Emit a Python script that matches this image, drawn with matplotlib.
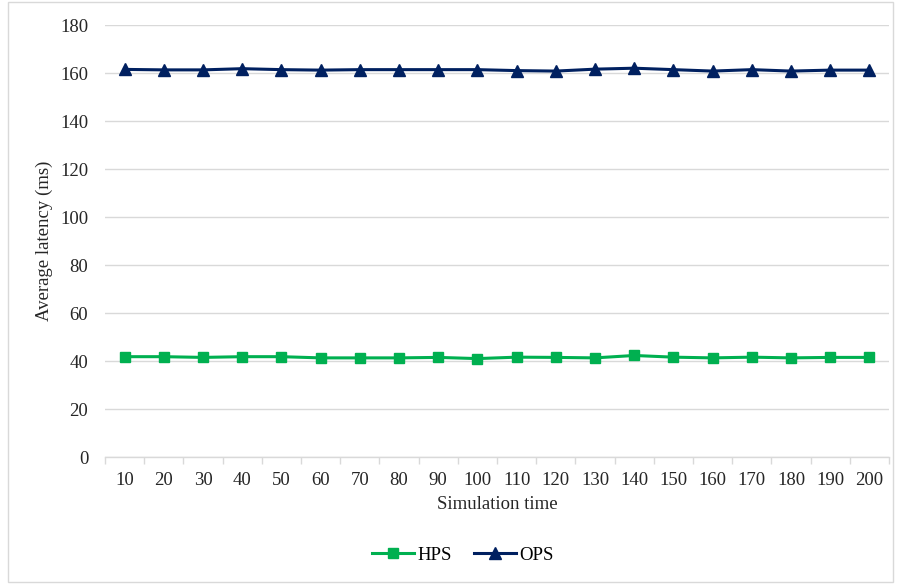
import matplotlib
matplotlib.use("Agg")
import matplotlib.pyplot as plt
from matplotlib.patches import Rectangle

plt.rcParams['font.family'] = ['Liberation Serif', 'DejaVu Serif']

categories = [10, 20, 30, 40, 50, 60, 70, 80, 90, 100, 110, 120, 130, 140, 150, 160, 170, 180, 190, 200]
hps = [41.8, 41.8, 41.5, 41.8, 41.8, 41.3, 41.3, 41.3, 41.5, 41.0, 41.6, 41.5, 41.3, 42.3, 41.6, 41.3, 41.6, 41.3, 41.5, 41.5]
ops = [161.5, 161.3, 161.3, 161.8, 161.4, 161.2, 161.4, 161.4, 161.4, 161.4, 161.0, 160.8, 161.6, 162.0, 161.4, 160.8, 161.4, 160.8, 161.2, 161.2]
yticks = [0, 20, 40, 60, 80, 100, 120, 140, 160, 180]

FS = 13.5
fig = plt.figure(figsize=(9.01, 5.84), dpi=100)
ax = fig.add_axes([105/901, 1 - 457/584, (889-105)/901, (457-25)/584])

x = list(range(len(categories)))
ax.plot(x, hps, color='#00B050', lw=2.2, marker='s', ms=7, label='HPS')
ax.plot(x, ops, color='#002060', lw=2.2, marker='^', ms=8, label='OPS')

ax.set_xlim(-0.5, len(categories) - 0.5)
ax.set_ylim(0, 180)
ax.set_yticks(yticks)
ax.set_xticks(x)
ax.set_xticklabels([str(c) for c in categories])
ax.set_xticks([i - 0.5 for i in range(len(categories) + 1)], minor=True)
ax.tick_params(axis='x', which='major', length=0, labelsize=FS, pad=11, colors='#262626')
ax.tick_params(axis='x', which='minor', length=5, color='#d9d9d9', width=1)
ax.tick_params(axis='y', length=0, labelsize=FS, pad=12, colors='#262626')
ax.grid(axis='y', color='#d9d9d9', lw=1)
ax.set_axisbelow(True)
for s in ['top', 'right', 'left']:
    ax.spines[s].set_visible(False)
ax.spines['bottom'].set_color('#d9d9d9')
ax.spines['bottom'].set_linewidth(1)

ax.set_xlabel('Simulation time', fontsize=FS, labelpad=5, color='#262626')
ax.set_ylabel('Average latency (ms)', fontsize=FS, labelpad=5, color='#262626')

fig.legend(loc='center', bbox_to_anchor=(463/901, 1 - 555/584), ncol=2, frameon=False,
           fontsize=FS, handlelength=2.2, columnspacing=1.2, handletextpad=0.2)

fig.patches.append(Rectangle((8/901, 2/584), 1 - 16/901, 1 - 4/584, transform=fig.transFigure,
                             fill=False, edgecolor='#d9d9d9', lw=1))

fig.savefig('out.png', dpi=100)
